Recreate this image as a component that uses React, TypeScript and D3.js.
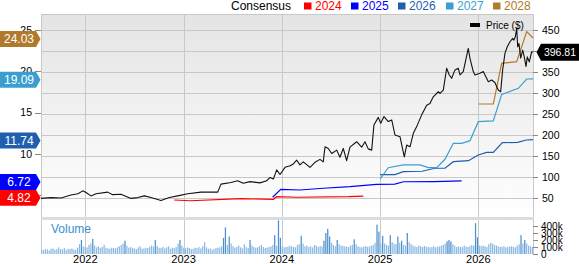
import React from "react";
import * as d3 from "d3";

// ---------- data ----------
const yearTicks = [2022, 2023, 2024, 2025, 2026];
const priceTicks = [50, 100, 150, 200, 250, 300, 350, 400, 450];
const epsTicks = [5, 10, 15, 20, 25];
const volTicks = [0, 100, 200, 300, 400];
const volTickLabels = ["0", "100k", "200k", "300k", "400k"];

const priceT = [2021.549,2021.651,2021.753,2021.854,2021.926,2021.974,2022.007,2022.058,2022.109,2022.228,2022.279,2022.363,2022.465,2022.533,2022.601,2022.669,2022.770,2022.855,2022.940,2023.042,2023.178,2023.348,2023.381,2023.483,2023.551,2023.608,2023.676,2023.778,2023.846,2023.880,2023.914,2023.948,2023.982,2024.033,2024.084,2024.117,2024.152,2024.185,2024.219,2024.287,2024.338,2024.389,2024.422,2024.440,2024.473,2024.508,2024.559,2024.592,2024.626,2024.660,2024.694,2024.762,2024.813,2024.847,2024.880,2024.915,2024.938,2024.982,2025.007,2025.040,2025.084,2025.119,2025.152,2025.203,2025.247,2025.271,2025.305,2025.339,2025.373,2025.424,2025.475,2025.508,2025.542,2025.593,2025.610,2025.644,2025.678,2025.705,2025.729,2025.763,2025.796,2025.814,2025.847,2025.898,2025.915,2025.949,2025.966,2026.017,2026.051,2026.085,2026.102,2026.136,2026.169,2026.203,2026.228,2026.248,2026.272,2026.295,2026.323,2026.350,2026.363,2026.377,2026.391,2026.401,2026.414,2026.432,2026.452,2026.468,2026.486,2026.499,2026.519,2026.543,2026.557];
const priceV = [49,51,50,57,60,67,63,55,60,64,58,59,49,51,55,51,44,51,55,60,64,64,83,87,91,85,89,86,91,99,95,117,106,123,127,131,140,129,136,123,135,142,136,172,168,156,164,147,168,139,171,184,171,184,167,164,224,242,228,244,232,236,200,196,148,176,172,204,220,248,271,275,291,303,299,307,359,343,335,355,359,343,351,406,383,351,343,347,351,335,327,331,325,307,303,355,395,410,422,430,426,434,454,410,418,383,402,386,363,386,374,398,397];
const lastPrice = 396.81;

const eps2024T = [2022.905, 2023.07, 2023.585, 2023.914, 2023.948, 2024.152, 2024.677, 2024.829];
const eps2024V = [4.42, 4.33, 4.58, 4.5, 4.82, 4.75, 4.82, 4.9];
const eps2025T = [2023.907, 2023.99, 2024.185, 2024.422, 2024.694, 2024.965, 2025.15, 2025.24, 2025.55, 2025.83];
const eps2025V = [4.75, 5.71, 5.63, 5.84, 6.03, 6.3, 6.35, 6.63, 6.65, 6.74];
const eps2026T = [2025.0, 2025.152, 2025.237, 2025.427, 2025.56, 2025.661, 2025.746, 2025.9, 2026.0, 2026.085, 2026.153, 2026.245, 2026.4, 2026.49, 2026.557];
const eps2026V = [7.5, 7.5, 7.85, 7.9, 8.26, 8.26, 9.06, 9.18, 9.87, 10.19, 10.19, 11.36, 11.4, 11.68, 11.74];
const eps2027T = [2025.0, 2025.084, 2025.237, 2025.407, 2025.492, 2025.577, 2025.661, 2025.746, 2025.831, 2025.916, 2026.0, 2026.153, 2026.238, 2026.407, 2026.493, 2026.557];
const eps2027V = [6.95, 8.33, 8.66, 8.66, 8.33, 8.33, 9.35, 11.28, 11.28, 11.6, 13.9, 14.0, 17.2, 17.94, 19.07, 19.09];
const eps2028T = [2026.0, 2026.153, 2026.238, 2026.391, 2026.493, 2026.557];
const eps2028V = [16.04, 16.04, 20.97, 21.16, 24.8, 24.03];

const seriesNames = ["2024", "2025", "2026", "2027", "2028"];
const seriesColors = ["#ff0000", "#0000ff", "#1f5fad", "#3a9fd0", "#b07a2a"];
const seriesLast = [4.82, 6.72, 11.74, 19.09, 24.03];

// weekly volume, thousands
const volume = [
  60,55,70,65,50,75,80,60,70,95,70,65,85,60,75,70,80,65,60,90,
  140,200,110,100,95,130,150,215,120,95,110,85,100,130,90,80,75,90,85,80,
  95,110,130,150,190,120,90,100,85,80,70,95,110,75,80,90,85,100,120,110,
  200,115,90,85,100,80,95,110,75,90,85,100,150,200,120,90,80,95,85,70,
  75,90,85,100,80,110,170,95,75,80,60,70,85,90,95,110,230,380,130,250,
  150,110,90,100,120,95,80,140,100,85,200,120,100,90,95,110,130,100,85,90,
  100,110,130,270,120,480,230,110,95,100,105,120,110,100,95,130,140,260,150,110,
  120,100,110,95,130,120,100,115,105,190,300,360,250,160,130,110,200,140,120,115,
  110,105,100,120,130,210,140,110,100,95,105,115,100,110,120,130,160,420,320,150,
  260,150,130,120,270,170,150,140,250,160,190,130,120,300,170,140,120,110,100,120,
  110,100,115,105,100,95,100,110,95,105,110,120,130,150,180,200,180,140,120,100,
  110,100,95,120,105,100,110,130,120,440,240,120,115,120,110,100,140,160,150,130,
  120,110,100,105,110,95,100,105,110,100,95,120,140,270,150,200,150,120,110,100,
];

// ---------- layout ----------
const W = 579, H = 264;
const L = 41, R = 533, T = 14, MB = 219, VT = 220, VB = 254;
const FONT = "'Liberation Sans', Arial, Helvetica, sans-serif";

export default function App() {
  const x = d3.scaleLinear().domain([2021.549, 2026.557]).range([L, R]);
  const yP = d3.scaleLinear().domain([0, 488.1]).range([MB, T]);
  const yE = d3.scaleLinear().domain([(236.5 - MB) / 8.26, (236.5 - T) / 8.26]).range([MB, T]);
  const yV = d3.scaleLinear().domain([0, 500]).range([VB, VB - 35]);
  const xb = d3.scaleBand<number>().domain(d3.range(volume.length)).range([L, R]).paddingInner(0.35);

  const priceLine = d3.line<number>().x((_, i) => x(priceT[i])).y((v) => yP(v));
  const epsLine = (ts: number[]) => d3.line<number>().x((_, i) => x(ts[i])).y((v) => yE(v));
  const epsSeries = [
    [eps2024T, eps2024V],
    [eps2025T, eps2025V],
    [eps2026T, eps2026V],
    [eps2027T, eps2027V],
    [eps2028T, eps2028V],
  ];

  const legendX = [304, 351, 398, 446, 493];

  const leftBadge = (yc: number) => {
    const h = 16;
    return `M0,${yc - h / 2} L36,${yc - h / 2} L40.5,${yc} L36,${yc + h / 2} L0,${yc + h / 2} Z`;
  };
  const rightBadge = (yc: number) => {
    const h = 17;
    return `M536.5,${yc} L541,${yc - h / 2} L579,${yc - h / 2} L579,${yc + h / 2} L541,${yc + h / 2} Z`;
  };

  return (
    <svg width={W} height={H} style={{ position: "absolute", left: 0, top: 0, fontFamily: FONT }}>
      <defs>
        <linearGradient id="bg" x1="0" y1="0" x2="0" y2="1">
          <stop offset="0" stopColor="#e4e4e4" />
          <stop offset="1" stopColor="#ffffff" />
        </linearGradient>
      </defs>
      <rect x={0} y={0} width={W} height={H} fill="#fff" />
      {/* panels */}
      <rect x={L} y={T} width={R - L} height={217 - T} fill="url(#bg)" />
      <rect x={L} y={VT} width={R - L} height={VB - VT} fill="#fff" />
      {/* horizontal grid */}
      {priceTicks.map((t) => (
        <line key={"hg" + t} x1={L} x2={R} y1={Math.round(yP(t)) + 0.5} y2={Math.round(yP(t)) + 0.5} stroke="#c8c8c8" />
      ))}
      {/* vertical grid */}
      {yearTicks.map((t) => (
        <line key={"vg" + t} x1={Math.round(x(t)) + 0.5} x2={Math.round(x(t)) + 0.5} y1={T} y2={VB} stroke="#c8c8c8" />
      ))}
      {/* borders */}
      <line x1={L} x2={R} y1={T + 0.5} y2={T + 0.5} stroke="#c8c8c8" />
      <line x1={L + 0.5} x2={L + 0.5} y1={T} y2={VB} stroke="#c8c8c8" />
      <line x1={R + 0.5} x2={R + 0.5} y1={T} y2={VB} stroke="#c8c8c8" />
      <rect x={L} y={217} width={R - L + 1} height={3} fill="#dcdcdc" />

      {/* volume bars */}
      {volume.map((v, i) => (
        <rect
          key={"vb" + i}
          x={xb(i)!}
          y={yV(v)}
          width={xb.bandwidth()}
          height={VB - yV(v)}
          fill={v >= 180 ? "#4a90d0" : "#8cb9e2"}
        />
      ))}
      <text x={51} y={233} fontSize={12} fill="#3a8fd0">Volume</text>

      {/* EPS consensus lines */}
      {epsSeries.map(([ts, vs], k) => (
        <path key={"eps" + k} d={epsLine(ts)(vs) || ""} fill="none" stroke={seriesColors[k]} strokeWidth={1.2} />
      ))}
      {/* price line */}
      <path d={priceLine(priceV) || ""} fill="none" stroke="#111" strokeWidth={1.1} strokeLinejoin="round" />

      {/* Price legend */}
      <rect x={470} y={23} width={10} height={4} fill="#000" />
      <text x={486} y={28.5} fontSize={10} fill="#000">Price ($)</text>

      {/* top legend */}
      <text x={231} y={10} fontSize={12} fill="#000">Consensus</text>
      {seriesNames.map((n, k) => (
        <g key={"lg" + n}>
          <rect x={legendX[k]} y={2.5} width={7.5} height={7} fill={seriesColors[k]} />
          <text x={legendX[k] + 11} y={10} fontSize={12} fill={seriesColors[k]}>{n}</text>
        </g>
      ))}

      {/* left axis */}
      {epsTicks.map((t) => (
        <g key={"et" + t}>
          <line x1={35} x2={L} y1={Math.round(yE(t)) + 0.5} y2={Math.round(yE(t)) + 0.5} stroke="#888" />
          <text x={32} y={yE(t)} dy="0.35em" fontSize={10.5} textAnchor="end" fill="#000">{t}</text>
        </g>
      ))}
      {/* right axis: price */}
      {priceTicks.map((t) => (
        <g key={"pt" + t}>
          <line x1={R} x2={R + 5} y1={Math.round(yP(t)) + 0.5} y2={Math.round(yP(t)) + 0.5} stroke="#888" />
          <text x={542} y={yP(t)} dy="0.35em" fontSize={10.5} fill="#000">{t}</text>
        </g>
      ))}
      {/* right axis: volume */}
      {volTicks.map((t, i) => (
        <g key={"vt" + t}>
          <line x1={R} x2={R + 5} y1={Math.round(yV(t)) + 0.5} y2={Math.round(yV(t)) + 0.5} stroke="#888" />
          <text x={541} y={yV(t)} dy="0.35em" fontSize={10} fill="#000">{volTickLabels[i]}</text>
        </g>
      ))}
      {/* x axis labels */}
      {yearTicks.map((t) => (
        <text key={"xl" + t} x={x(t)} y={263} fontSize={11} textAnchor="middle" fill="#000">{t}</text>
      ))}

      {/* left badges */}
      {seriesLast.map((v, k) => (
        <g key={"lb" + k}>
          <path d={leftBadge(yE(v) + 1)} fill={seriesColors[k]} />
          <text x={19} y={yE(v) + 1} dy="0.36em" fontSize={12} textAnchor="middle" fill="#fff">{v.toFixed(2)}</text>
        </g>
      ))}
      {/* right badge */}
      <path d={rightBadge(yP(lastPrice))} fill="#000" />
      <text x={560} y={yP(lastPrice)} dy="0.36em" fontSize={10.5} textAnchor="middle" fill="#fff">{lastPrice}</text>
    </svg>
  );
}
